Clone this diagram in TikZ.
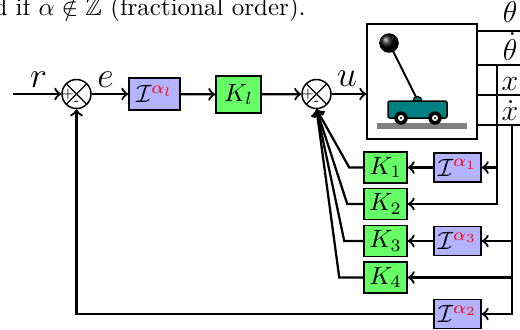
\documentclass[tikz,border=0pt]{standalone}
\usepackage{amssymb}
\usetikzlibrary{calc}

\definecolor{kgreen}{RGB}{102,255,102}
\definecolor{ilav}{RGB}{179,179,255}
\definecolor{cartteal}{RGB}{0,128,128}

\tikzset{
  wire/.style={line width=0.9pt},
  sumnode/.style={circle,draw,line width=0.6pt,minimum size=11.6pt,inner sep=0pt,fill=white,
    path picture={\draw[line width=0.45pt]
      (path picture bounding box.north west)--(path picture bounding box.south east)
      (path picture bounding box.north east)--(path picture bounding box.south west);}},
  gainbox/.style={draw,line width=0.6pt,fill=kgreen,minimum width=17.2pt,minimum height=12.4pt,inner sep=0pt},
  intbox/.style={draw,line width=0.6pt,fill=ilav,minimum width=18.8pt,minimum height=11.6pt,inner sep=0pt},
  plantbox/.style={draw,line width=0.6pt,fill=white,minimum width=44pt,minimum height=46pt,inner sep=0pt},
  signlabel/.style={font=\tiny,inner sep=0pt},
  siglabel/.style={font=\Large,anchor=base,inner sep=0pt},
  outlabel/.style={font=\large,anchor=base,inner sep=0pt}
}

\newcommand{\fracint}[1]{$\mathcal{I}^{\textcolor{red}{#1}}$}

\begin{document}
\begin{tikzpicture}[x=0.4pt,y=-0.4pt]
\useasboundingbox (0,0) rectangle (520,329);

% running text above the figure
\node[anchor=base west,inner sep=0pt] (txt) at (-7,15) {d if $\alpha\notin\mathbb{Z}$ (fractional order).};

% forward path
\coordinate (ref) at (13,94);
\node[sumnode] (s1) at (76.5,94) {};
\node[intbox,minimum width=20.4pt,minimum height=12.8pt] (Il) at (154.5,94) {\fracint{\alpha_l}};
\node[gainbox,minimum width=18pt,minimum height=14.8pt] (Kl) at (238.5,94.5) {$K_l$};
\node[sumnode] (s2) at (316.5,94) {};
\node[plantbox] (plant) at (422,81.5) {};

% signs on the summing junctions
\node[signlabel] at ($(s1)+(-8.5,0)$) {+};
\node[signlabel] at ($(s1)+(0,9)$) {-};
\node[signlabel] at ($(s2)+(-8.5,0)$) {+};
\node[signlabel] at ($(s2)+(0,9)$) {-};

% cart-pole inside the plant block
\fill[gray] (377,123) rectangle (467,129);
\draw[line width=0.8pt] (417,99) -- (389,43);
\shade[ball color=black] (389,43) circle[radius=3.9pt];
\filldraw[fill=cartteal,draw=black,line width=0.5pt] (413,101) arc[start angle=180,end angle=0,radius=1.8pt] -- cycle;
\filldraw[fill=cartteal,draw=black,line width=0.6pt,rounded corners=0.8pt] (388,101) rectangle (447,118);
\foreach \wx in {401,435}{
  \fill[black] (\wx,118) circle[radius=2.7pt];
  \fill[white] (\wx,118) circle[radius=1.2pt];
  \fill[black] (\wx,118) circle[radius=0.45pt];
}

% state feedback blocks
\node[gainbox] (K1) at (385.5,167.5) {$K_1$};
\node[gainbox] (K2) at (385.5,204) {$K_2$};
\node[gainbox] (K3) at (385.5,241) {$K_3$};
\node[gainbox] (K4) at (385.5,277.5) {$K_4$};
\node[intbox] (I1) at (457.5,167.5) {\fracint{\alpha_1}};
\node[intbox] (I3) at (457.5,241) {\fracint{\alpha_3}};
\node[intbox] (I2) at (457.5,314) {\fracint{\alpha_2}};

% signal labels
\node[siglabel] (lr) at (38.5,87) {$r$};
\node[siglabel] (le) at (105.5,87) {$e$};
\node[siglabel] (lu) at (347,86) {$u$};

% plant outputs
\coordinate (oth)  at (525,31);
\coordinate (othd) at (525,65);
\coordinate (ox)   at (525,95);
\coordinate (oxd)  at (525,125);
\node[outlabel] (lth)  at (510,22)  {$\theta$};
\node[outlabel] (lthd) at (510,60)  {$\dot\theta$};
\node[outlabel] (lx)   at (510,90)  {$x$};
\node[outlabel] (lxd)  at (510,120) {$\dot x$};
\draw[wire] (plant.east |- oth)  -- (oth);
\draw[wire] (plant.east |- othd) -- (othd);
\draw[wire] (plant.east |- ox)   -- (ox);
\draw[wire] (plant.east |- oxd)  -- (oxd);

% forward connections
\draw[wire,->] (ref) -- (s1.west);
\draw[wire,->] (s1) -- (Il);
\draw[wire,->] (Il) -- (Kl);
\draw[wire,->] (Kl) -- (s2);
\draw[wire,->] (s2.east) -- (s2.east -| plant.west);

% taps on the output lines
\coordinate (ta) at (497,65);
\coordinate (tb) at (512,125);
\draw[wire,->] (ta) |- (K2.east);
\draw[wire,->] (ta |- I1) -- (I1.east);
\draw[wire,->] (I1) -- (K1);
\draw[wire,->] (tb) |- (I2.east);
\draw[wire,->] (tb |- I3) -- (I3.east);
\draw[wire,->] (tb |- K4) -- (K4.east);
\draw[wire,->] (I3) -- (K3);

% gains back to the inner summing junction
\draw[wire,->] (K1.west) -- ++(-14,0) -- (s2.south);
\draw[wire,->] (K2.west) -- ++(-16,0) -- (s2.south);
\draw[wire,->] (K3.west) -- ++(-19,0) -- (s2.south);
\draw[wire,->] (K4.west) -- ++(-24,0) -- (s2.south);

% outer position loop
\draw[wire,->] (I2.west) -| (s1.south);
\end{tikzpicture}
\end{document}
